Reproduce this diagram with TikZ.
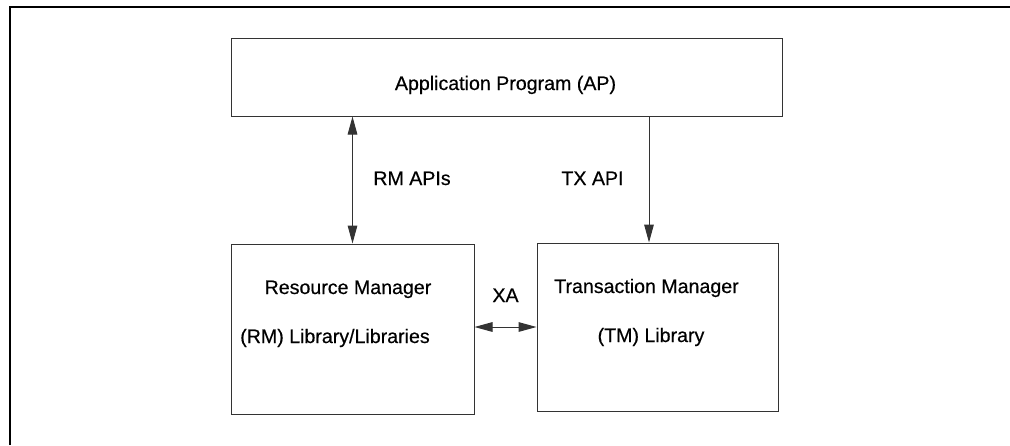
\documentclass[tikz,border=0pt]{standalone}
\usepackage{fontspec}
\setmainfont{Liberation Sans}
\newfontfamily\labelfont{Liberation Sans}[FakeBold=0.45]
\usetikzlibrary{arrows.meta}

\begin{document}
\begin{tikzpicture}[
    x=0.5pt, y=-0.5pt,
    font=\labelfont\fontsize{9.8}{12}\selectfont,
    block/.style={rectangle, draw=black!80, line width=0.5pt, inner sep=0pt},
    link/.style={draw=black!80, line width=0.5pt, -{Triangle[length=9pt, width=4.8pt]}},
    both/.style={link, {Triangle[length=9pt, width=4.8pt]}-{Triangle[length=9pt, width=4.8pt]}},
    txt/.style={anchor=base, inner sep=0pt},
]
\useasboundingbox (0,0) rectangle (1010,445);

% open frame
\draw[line width=0.8pt] (10,445) -- (10,7) -- (1010,7);

\node[block, minimum width=275.5pt, minimum height=39pt] (ap) at (506.5,77) {};
\node[block, minimum width=121.5pt, minimum height=85pt] (rm) at (352.5,329) {};
\node[block, minimum width=120.5pt, minimum height=84pt] (tm) at (657.5,327) {};

\node[txt] (aptext) at (505.5,90) {Application Program (AP)};
\node[txt] (rmtop) at (348,294) {Resource Manager};
\node[txt] (rmbot) at (335,343) {(RM) Library/Libraries};
\node[txt] (tmtop) at (646.5,293) {Transaction Manager};
\node[txt] (tmbot) at (651,342) {(TM) Library};

\coordinate (txx) at (649,0);
\coordinate (xay) at (0,327);

\draw[both] (ap.south -| rm.north) -- (rm.north);
\draw[link] (ap.south -| txx) -- (tm.north -| txx);
\draw[both] (rm.east |- xay) -- (tm.west |- xay);

\node[txt] (rmapi) at (412,185) {RM APIs};
\node[txt] (txapi) at (592.5,185) {TX API};
\node[txt] (xa) at (505.5,302) {XA};

\end{tikzpicture}
\end{document}
